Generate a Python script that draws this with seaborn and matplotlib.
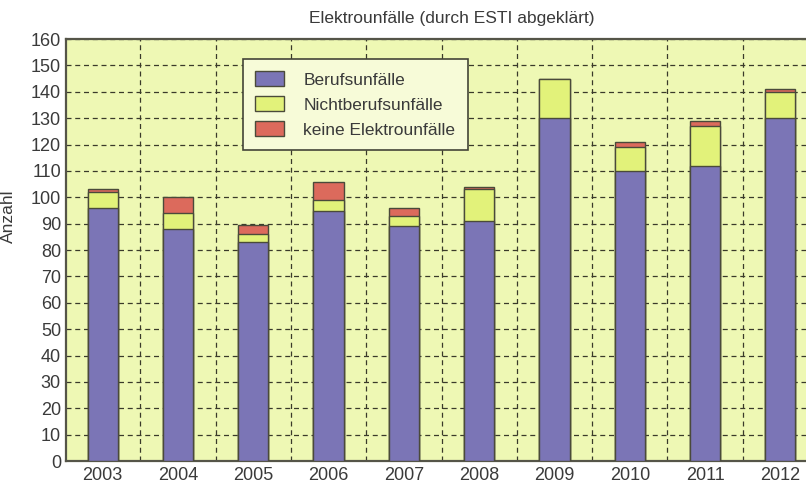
import matplotlib
matplotlib.use("Agg")
import matplotlib.pyplot as plt
import matplotlib.patches as mpatches
import seaborn as sns
import pandas as pd
import numpy as np

# Werte
jahre = ["2003", "2004", "2005", "2006", "2007", "2008", "2009", "2010", "2011", "2012"]
berufsunfaelle = [96, 88, 83, 95, 89, 91, 130, 110, 112, 130]
nichtberufsunfaelle = [6, 6, 3, 4, 4, 12, 15, 9, 15, 10]
keine_elektrounfaelle = [1, 6, 3.5, 7, 3, 1, 0, 2, 2, 1]

series_names = ["Berufsunfälle", "Nichtberufsunfälle", "keine Elektrounfälle"]
colors = ["#7b75b6", "#e2f27a", "#dc6a5c"]
bg_color = "#eef8b4"
edge = "#4a4a3a"
text_color = "#3a3a3a"

df = pd.DataFrame({
    "Jahr": jahre,
    "blau": berufsunfaelle,
    "gruen": nichtberufsunfaelle,
    "rot": keine_elektrounfaelle,
})
df["stufe1"] = df["blau"]
df["stufe2"] = df["blau"] + df["gruen"]
df["stufe3"] = df["stufe2"] + df["rot"]

sns.set_style("white")
plt.rcParams["font.family"] = ["Liberation Sans", "DejaVu Sans"]

fig = plt.figure(figsize=(8.06, 4.83), dpi=100)
ax = fig.add_axes([0.0825, 0.0455, 0.9175, 0.8735])
ax.set_facecolor(bg_color)

# gestapelte Balken: von hinten (Gesamt) nach vorne
for col, c in [("stufe3", colors[2]), ("stufe2", colors[1]), ("stufe1", colors[0])]:
    sns.barplot(data=df, x="Jahr", y=col, order=jahre, color=c, width=0.4,
                edgecolor=edge, linewidth=1.0, saturation=1, ax=ax, zorder=3)

ax.set_ylim(0, 160)
ax.set_xlim(-0.48, 9.34)
ax.set_yticks(np.arange(0, 161, 10))
ax.set_xticks(range(len(jahre)))
ax.set_xticklabels(jahre)

# Gitter: horizontal auf Ticks, vertikal zwischen den Balken
ax.set_xticks(np.arange(0.5, len(jahre) - 1, 1.0), minor=True)
ax.grid(axis="y", which="major", linestyle=(0, (4, 3)), color="#3a3a2a", linewidth=0.9, zorder=1)
ax.grid(axis="x", which="minor", linestyle=(0, (4, 3)), color="#3a3a2a", linewidth=0.9, zorder=1)
ax.grid(axis="x", which="major", visible=False)
ax.set_axisbelow(True)

ax.tick_params(axis="both", which="both", length=0, labelsize=13, colors=text_color)
ax.tick_params(axis="y", pad=4)
ax.tick_params(axis="x", pad=4)

for side in ["left", "bottom", "top"]:
    ax.spines[side].set_color("#555548")
    ax.spines[side].set_linewidth(1.6)
ax.spines["right"].set_visible(False)

ax.set_xlabel("")
ax.set_ylabel("Anzahl", fontsize=12.5, color=text_color)
ax.yaxis.set_label_coords(-0.069, 0.58)

fig.text(452 / 806, 1 - 18 / 483, "Elektrounfälle (durch ESTI abgeklärt)",
         ha="center", va="center", fontsize=12.5, color=text_color)

handles = [mpatches.Patch(facecolor=c, edgecolor=edge, linewidth=1.0, label=n)
           for c, n in zip(colors, series_names)]
leg = ax.legend(handles=handles, loc="upper left", bbox_to_anchor=(0.239, 0.953),
                fontsize=12.5, frameon=True, fancybox=False, handlelength=1.67,
                handleheight=0.95, handletextpad=1.1, borderpad=0.7, labelspacing=0.5,
                borderaxespad=0)
leg.get_frame().set_facecolor("#f7fbd8")
leg.get_frame().set_edgecolor("#444438")
leg.get_frame().set_linewidth(1.2)
leg.get_frame().set_alpha(1)
leg.set_zorder(5)
for t in leg.get_texts():
    t.set_color(text_color)

fig.savefig("out.png", dpi=100)
plt.close(fig)
